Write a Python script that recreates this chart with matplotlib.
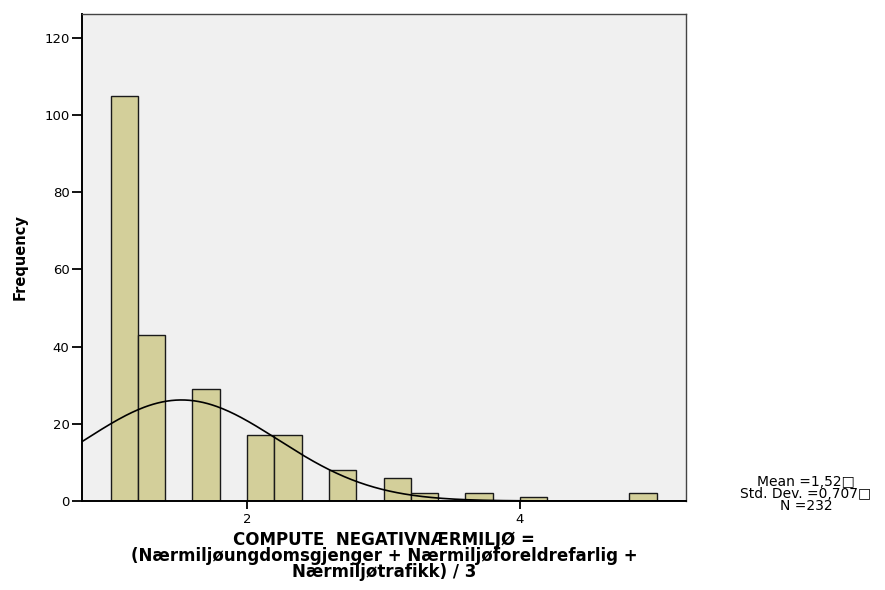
import numpy as np
import matplotlib.pyplot as plt

plt.rcParams['font.family'] = ['DejaVu Sans']

# histogram bins (left edges, width 0.2) and counts
bin_left = [1.0, 1.2, 1.6, 2.0, 2.2, 2.6, 3.0, 3.2, 3.6, 4.0, 4.8]
counts = [105, 43, 29, 17, 17, 8, 6, 2, 2, 1, 2]
bin_width = 0.2

mean_val = 1.52
std_val = 0.707
n_val = 232

y_ticks = [0, 20, 40, 60, 80, 100, 120]
x_ticks = [2, 4]

fig = plt.figure(figsize=(8.85, 5.9), dpi=100)
ax = fig.add_axes([82 / 885, 1 - 501 / 590, (686 - 82) / 885, (501 - 14) / 590])
ax.set_facecolor('#f0f0f0')

ax.bar(bin_left, counts, width=bin_width, align='edge',
       color='#d3cf9a', edgecolor='#1a1a1a', linewidth=1.0, zorder=2)

# normal curve scaled to the histogram
xs = np.linspace(0.791, 5.216, 400)
ys = n_val * bin_width / (std_val * np.sqrt(2 * np.pi)) * np.exp(-0.5 * ((xs - mean_val) / std_val) ** 2)
ax.plot(xs, ys, color='black', linewidth=1.2, zorder=3)

ax.set_xlim(0.791, 5.216)
ax.set_ylim(0, 126.2)
ax.set_yticks(y_ticks)
ax.set_xticks(x_ticks)
ax.tick_params(axis='y', direction='out', length=7, width=1.3, labelsize=9.5, pad=2)
ax.tick_params(axis='x', direction='out', length=5.5, width=1.3, labelsize=9.5, pad=3)

for side in ['left', 'bottom']:
    ax.spines[side].set_linewidth(1.4)
    ax.spines[side].set_color('black')
for side in ['top', 'right']:
    ax.spines[side].set_linewidth(1.0)
    ax.spines[side].set_color('#444444')

ax.set_ylabel('Frequency', fontsize=10.5, fontweight='bold', labelpad=12)
ax.set_xlabel('COMPUTE  NEGATIVNÆRMILJØ =\n(Nærmiljøungdomsgjenger + Nærmiljøforeldrefarlig +\nNærmiljøtrafikk) / 3',
              fontsize=12, fontweight='bold', linespacing=0.85, labelpad=4)

fig.text(806 / 885, 1 - 494 / 590,
         'Mean =1,52\u25a1\nStd. Dev. =0,707\u25a1\nN =232',
         ha='center', va='center', fontsize=10, linespacing=0.78)

fig.savefig('out.png', dpi=100)
